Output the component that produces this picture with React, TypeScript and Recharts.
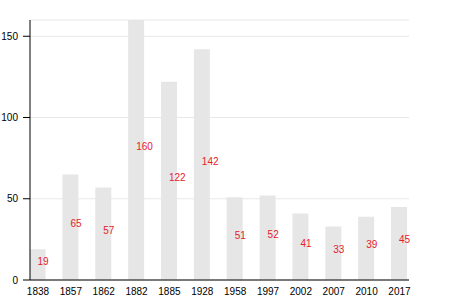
import React from "react";
import { BarChart, Bar, XAxis, YAxis, CartesianGrid, LabelList } from "recharts";

const years = ["1838", "1857", "1862", "1882", "1885", "1928", "1958", "1997", "2002", "2007", "2010", "2017"];
const counts = [19, 65, 57, 160, 122, 142, 51, 52, 41, 33, 39, 45];
const yTicks = [0, 50, 100, 150];

const data = years.map((year, i) => ({ idx: i, year, value: counts[i] }));
const xTicks = years.map((_, i) => i);

const RedLabel = (props: any) => {
  const { x, y, width, height, value } = props;
  return (
    <text
      x={x + width / 2}
      y={y + height / 2}
      fill="#e8202a"
      fontSize={10}
      fontFamily="Liberation Sans, Arial, sans-serif"
      textAnchor="start"
    >
      {value}
    </text>
  );
};

export default function App() {
  return (
    <div style={{ position: "absolute", left: 0, top: 0, background: "#fff" }}>
      <BarChart
        width={450}
        height={300}
        data={data}
        margin={{ top: 20, right: 41, bottom: 0, left: 0 }}
      >
        <CartesianGrid vertical={false} stroke="#e8e8e8" />
        <XAxis
          dataKey="idx"
          type="number"
          domain={[-0.243, 11.29]}
          ticks={xTicks}
          tickFormatter={(v: number) => years[v]}
          tickLine={false}
          axisLine={{ stroke: "#000" }}
          height={20}
          tickMargin={2}
          interval={0}
          allowDataOverflow
          tick={{ fill: "#000", fontSize: 10, fontFamily: "Liberation Sans, Arial, sans-serif" }}
        />
        <YAxis
          domain={[0, 160]}
          ticks={yTicks}
          width={30}
          tickSize={7}
          tickMargin={5}
          axisLine={{ stroke: "#000" }}
          tickLine={{ stroke: "#000" }}
          allowDataOverflow
          tick={{ fill: "#000", fontSize: 10, fontFamily: "Liberation Sans, Arial, sans-serif" }}
        />
        <Bar dataKey="value" fill="#e6e6e6" barSize={16} isAnimationActive={false}>
          <LabelList dataKey="value" content={RedLabel} />
        </Bar>
      </BarChart>
    </div>
  );
}
